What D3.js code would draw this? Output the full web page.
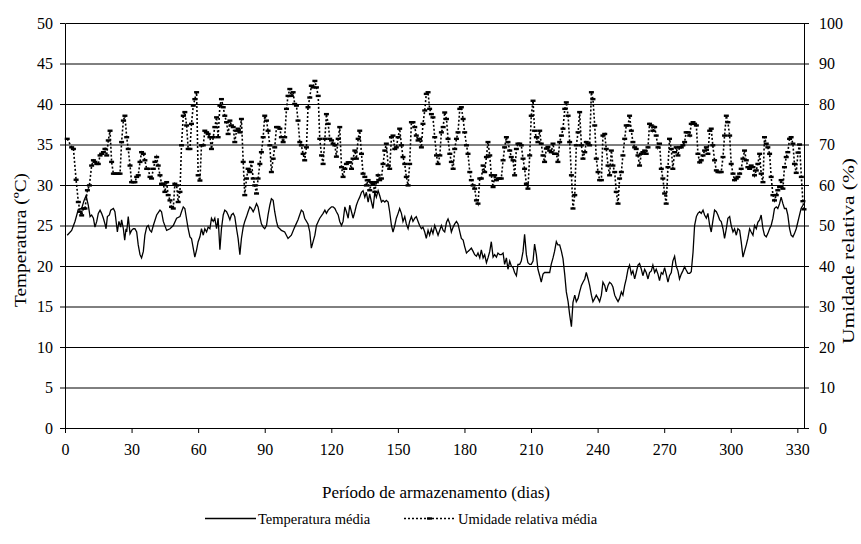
<!DOCTYPE html>
<html><head><meta charset="utf-8">
<script src="https://cdn.jsdelivr.net/npm/d3@7"></script>
<style>
body{margin:0;background:#fff;}
svg{display:block;}
</style></head>
<body><svg id="c" width="861" height="544" font-family="Liberation Serif"></svg>
<script>
// ---- data ----
const xTicks = [0,30,60,90,120,150,180,210,240,270,300,330];
const tempTicks = [0,5,10,15,20,25,30,35,40,45,50];
const rhTicks = [0,10,20,30,40,50,60,70,80,90,100];

const tempDay = [1.0,3.0,4.5,6.0,7.5,8.6,9.5,10.5,11.3,12.0,12.8,13.5,14.3,15.0,15.8,16.5,17.3,18.0,18.5,19.1,20.0,20.6,21.8,22.5,23.6,24.3,25.1,25.5,26.3,26.9,27.5,27.8,28.5,29.3,30.0,30.8,31.5,32.3,33.0,33.8,34.5,35.3,36.0,36.8,37.5,38.3,39.0,39.8,41.3,42.8,43.5,44.3,45.8,47.3,48.8,50.3,51.8,52.5,53.3,
54.0,55.5,56.3,57.0,58.5,59.3,60.0,60.8,61.5,62.3,63.0,63.8,64.5,65.3,66.0,66.8,67.5,68.3,69.0,69.8,70.5,71.3,72.0,72.8,73.5,74.3,75.0,75.8,76.5,77.3,78.0,78.8,79.5,80.3,81.0,81.8,82.5,83.3,84.0,84.8,85.5,86.3,87.0,87.8,88.5,89.3,90.0,90.8,91.5,92.3,93.0,93.8,94.5,95.3,96.0,96.8,97.5,99.0,100.5,102.0,103.5,105.0,106.5,107.3,108.0,109.5,
110.3,111.0,111.8,112.6,113.3,114.1,114.8,116.3,117.1,117.8,118.6,119.3,120.1,120.8,121.6,122.3,123.1,123.8,124.6,125.3,126.1,126.8,127.6,128.3,129.1,129.8,130.6,131.3,132.1,132.8,133.6,134.3,135.1,135.8,136.6,137.3,138.1,138.8,139.6,140.3,141.1,141.8,142.6,143.3,144.1,144.8,145.6,146.3,147.1,147.8,148.6,149.3,150.1,150.8,151.6,152.3,153.1,153.8,154.6,155.3,156.1,156.8,157.6,158.3,159.1,159.8,160.6,161.3,162.1,162.8,163.6,164.3,165.1,165.8,
166.6,168.1,169.6,170.4,171.1,171.9,172.6,173.4,174.1,174.9,175.6,176.4,177.1,177.9,178.6,179.4,180.1,180.9,181.6,182.4,183.1,183.9,184.6,185.4,186.1,186.9,187.6,188.4,189.1,189.9,190.6,191.4,192.1,192.9,193.6,194.4,195.1,195.9,196.6,197.4,198.1,198.9,199.6,200.4,201.1,201.9,202.6,203.4,204.1,204.9,205.6,206.4,207.1,207.9,208.6,209.4,210.1,210.9,211.6,212.4,213.1,213.9,214.6,215.4,216.1,216.9,217.6,218.4,219.1,219.9,220.6,221.4,222.1,
222.9,223.7,224.4,225.2,225.9,226.7,227.4,228.2,228.9,229.7,230.4,231.2,231.9,232.7,233.4,234.2,234.9,235.7,236.4,237.2,237.9,238.7,239.4,240.2,240.9,241.7,242.4,243.2,243.9,244.7,245.4,246.2,246.9,247.7,248.4,249.2,249.9,250.7,251.4,252.2,252.9,253.7,254.4,255.2,255.9,256.7,257.4,258.2,258.9,259.7,260.4,261.2,261.9,262.7,263.4,264.2,264.9,265.7,266.4,267.2,267.9,268.7,269.4,270.2,270.9,271.7,272.4,273.2,273.9,274.7,275.4,276.2,276.9,277.7,278.4,
279.2,279.9,280.7,281.5,282.2,283.0,283.7,284.5,285.2,286.0,286.7,287.5,288.2,289.0,289.7,290.5,291.2,291.9,292.7,293.5,294.2,295.0,295.7,296.5,297.2,298.0,298.7,299.5,300.2,301.0,301.7,302.5,303.2,304.0,304.7,305.5,306.2,307.0,307.7,308.5,309.2,310.0,310.7,311.5,312.2,313.0,313.7,314.5,315.2,316.0,316.7,317.5,318.2,319.0,319.7,320.5,321.2,322.0,322.7,323.5,324.2,325.0,325.7,326.5,327.2,328.0,328.7,329.5,330.2,331.0,331.7,332.5];
const tempVal = [23.8,24.4,25.5,27.0,27.1,28.1,28.7,27.5,26.1,26.3,25.9,24.8,25.5,26.5,26.9,26.5,25.9,25.2,24.6,26.1,26.3,26.9,27.1,26.7,24.2,25.5,24.8,25.7,24.6,23.2,24.6,24.2,26.1,24.0,24.4,24.6,24.6,24.2,22.6,21.4,21.0,21.8,23.8,24.8,25.0,24.4,24.2,25.0,26.3,26.9,26.7,25.5,24.4,24.6,25.0,25.9,26.1,26.7,27.3,
27.1,24.6,23.6,23.4,21.1,22.0,23.0,23.6,24.6,23.8,24.6,24.2,24.8,24.6,25.9,25.5,25.9,24.6,25.9,22.0,24.6,26.3,26.9,26.7,26.3,25.7,26.3,26.5,26.1,24.6,23.4,21.4,23.4,24.8,25.5,26.1,26.7,27.3,27.1,26.7,27.1,27.7,27.3,26.1,25.2,24.8,24.6,25.0,26.3,27.5,28.3,28.1,26.7,25.5,24.8,24.6,24.4,24.2,23.4,23.8,24.8,25.7,26.9,26.7,25.9,25.2,
24.2,22.2,23.0,23.8,25.0,25.5,25.9,26.5,26.9,26.5,26.9,27.1,27.3,27.3,27.1,26.7,26.3,25.5,25.0,25.5,27.3,26.7,25.9,27.5,26.7,25.9,26.7,27.5,28.1,28.5,29.1,29.3,28.5,29.1,27.9,28.9,27.9,27.1,29.1,28.5,29.3,28.7,27.9,28.1,27.9,28.1,27.9,26.7,25.0,24.2,25.0,25.9,26.5,27.1,26.5,25.5,26.1,25.2,24.6,25.5,26.1,25.5,25.9,26.1,25.5,25.0,24.6,24.8,24.2,23.4,24.4,23.8,24.6,24.0,
25.0,23.8,25.0,24.4,24.2,25.4,25.8,25.2,24.2,24.8,25.2,25.5,25.2,24.2,23.4,23.2,22.4,21.6,21.8,22.0,22.2,21.8,21.4,21.2,21.6,21.0,22.0,21.0,21.4,20.4,21.0,21.8,23.0,21.1,21.4,21.1,21.6,21.4,21.4,21.6,20.2,21.0,19.6,20.6,20.0,19.8,19.2,18.8,20.2,20.2,20.6,21.8,23.9,21.4,20.4,20.2,20.2,20.6,22.7,21.4,19.6,18.8,18.0,19.0,19.2,19.2,19.2,19.2,20.2,21.0,21.8,23.0,22.6,
22.6,21.8,20.9,18.9,16.8,15.6,14.0,12.5,15.5,16.4,15.6,16.0,16.8,17.6,18.0,18.4,19.2,18.4,17.6,16.4,15.6,16.0,16.4,16.0,15.6,16.4,18.0,17.6,16.8,17.6,18.0,17.8,17.4,16.4,16.0,15.6,16.0,16.8,16.4,17.6,18.4,19.6,20.1,19.0,19.4,18.4,19.2,20.1,20.3,19.6,18.8,19.6,19.2,18.4,19.2,19.4,20.1,19.2,19.6,19.0,18.2,19.2,19.0,19.8,19.0,18.0,18.8,19.2,20.6,21.2,20.0,19.4,18.4,19.0,19.4,
19.9,19.5,19.1,19.1,19.3,21.7,25.0,26.1,26.5,26.7,26.5,26.9,26.3,25.9,26.5,25.0,24.2,25.5,26.9,26.7,26.3,25.7,25.5,24.6,23.4,24.6,25.9,26.1,25.0,24.2,24.6,23.8,24.6,24.4,23.0,21.1,21.8,22.6,23.4,24.6,24.2,23.8,25.0,24.6,25.4,25.7,26.3,24.6,23.8,23.6,24.0,24.6,25.0,25.9,27.1,27.3,27.1,27.7,28.5,27.7,27.1,27.1,26.3,24.6,23.8,23.6,24.0,24.6,25.4,26.3,27.1,27.5];

const rhDay = [1.0,3.0,3.8,5.0,6.0,6.8,7.5,8.3,9.0,10.1,11.0,12.0,12.8,13.5,14.3,15.0,15.8,16.5,17.3,18.0,18.8,19.5,20.3,21.0,21.8,22.5,23.3,24.0,24.8,25.5,26.3,27.0,27.8,28.5,29.3,30.0,30.8,31.5,32.3,33.0,33.8,34.5,35.3,36.0,36.8,37.5,38.3,39.0,39.8,40.5,41.3,42.0,42.8,43.5,44.3,45.0,45.8,46.5,47.3,48.0,48.8,49.5,50.3,51.0,51.8,52.5,53.3,
54.0,54.8,55.5,56.3,57.0,57.8,58.5,59.3,60.0,60.8,61.5,62.3,63.0,63.8,64.5,65.3,66.0,66.8,67.5,68.3,69.0,69.8,70.5,71.3,72.0,72.8,73.5,74.3,75.0,75.8,76.5,77.3,78.0,78.8,79.5,80.3,81.0,81.8,82.5,83.3,84.0,84.8,85.5,86.3,87.0,87.8,88.5,89.3,90.0,90.8,91.5,92.3,93.0,93.8,94.5,95.3,96.0,96.8,97.5,98.3,99.0,99.8,100.5,101.3,102.0,102.8,103.5,104.3,105.0,105.8,106.5,107.3,108.0,108.8,109.5,
110.3,111.0,111.8,112.6,113.3,114.1,114.8,115.6,116.3,117.1,117.8,118.6,119.3,120.1,120.8,121.6,122.3,123.1,123.8,124.6,125.3,126.1,126.8,127.6,128.3,129.1,129.8,130.6,131.3,132.1,132.8,133.6,134.3,135.1,135.8,136.6,137.3,138.1,138.8,139.6,140.3,141.1,141.8,142.6,143.3,144.1,144.8,145.6,146.3,147.1,147.8,148.6,149.3,150.1,150.8,151.6,152.3,153.1,153.8,154.6,155.3,156.1,156.8,157.6,158.3,159.1,159.8,160.6,161.3,162.1,162.8,163.6,164.3,165.1,165.8,
166.6,167.4,168.1,168.9,169.6,170.4,171.1,171.9,172.6,173.4,174.1,174.9,175.6,176.4,177.1,177.9,178.6,179.4,180.1,180.9,181.6,182.4,183.1,183.9,184.6,185.4,186.1,186.9,187.6,188.4,189.1,189.9,190.6,191.4,192.1,192.9,193.6,194.4,195.1,195.9,196.6,197.4,198.1,198.9,199.6,200.4,201.1,201.9,202.6,203.4,204.1,204.9,205.6,206.4,207.1,207.9,208.6,209.4,210.1,210.9,211.6,212.4,213.1,213.9,214.6,215.4,216.1,216.9,217.6,218.4,219.1,219.9,220.6,221.4,222.1,
222.9,223.7,224.4,225.2,225.9,226.7,227.4,228.2,228.9,229.7,230.4,231.2,231.9,232.7,233.4,234.2,234.9,235.7,236.4,237.2,237.9,238.7,239.4,240.2,240.9,241.7,242.4,243.2,243.9,244.7,245.4,246.2,246.9,247.7,248.4,249.2,249.9,250.7,251.4,252.2,252.9,253.7,254.4,255.2,255.9,256.7,257.4,258.2,258.9,259.7,260.4,261.2,261.9,262.7,263.4,264.2,264.9,265.7,266.4,267.2,267.9,268.7,269.4,270.2,270.9,271.7,272.4,273.2,273.9,274.7,275.4,276.2,276.9,277.7,278.4,279.2,279.9,280.7,
281.5,282.2,283.0,283.7,284.5,285.2,286.0,286.7,287.5,288.2,289.0,289.7,290.5,291.2,291.9,292.7,293.5,294.2,295.0,295.7,296.5,297.2,298.0,298.7,299.5,300.2,301.0,301.7,302.5,303.2,304.0,304.7,305.5,306.2,307.0,307.7,308.5,309.2,310.0,310.7,311.5,312.2,313.0,313.7,314.5,315.2,316.0,316.7,317.5,318.2,319.0,319.7,320.5,321.2,322.0,322.7,323.5,324.2,325.0,325.7,326.5,327.2,328.0,328.7,329.5,330.3,331.0,331.8,332.5,333.0];
const rhVal = [71.4,69.3,68.9,61.3,55.8,53.4,52.5,54.2,54.2,58.7,59.9,64.8,66.1,65.7,65.2,65.2,67.3,67.7,68.1,68.9,67.3,71.0,73.4,65.7,62.8,62.8,62.8,62.8,62.8,70.6,75.9,77.1,71.8,68.9,64.8,60.7,60.7,60.7,62.0,62.4,65.7,68.1,67.7,66.1,64.0,64.0,62.0,61.6,64.0,65.7,66.9,64.8,62.4,60.3,60.3,58.3,60.7,57.5,56.2,54.6,54.2,60.3,59.9,55.8,58.3,69.8,77.1,
78.0,74.7,68.9,68.9,75.1,79.6,81.2,82.9,62.4,61.1,69.8,69.8,73.4,73.0,72.6,71.8,68.9,71.8,74.3,76.7,71.8,79.6,81.2,79.2,77.1,75.5,72.6,75.9,74.7,74.3,70.6,73.4,73.9,73.0,76.3,65.7,57.5,61.6,64.0,63.2,65.7,61.6,59.9,57.9,61.6,65.2,68.1,71.8,77.1,75.9,73.4,69.8,63.2,66.5,69.3,74.3,74.3,73.9,71.8,70.6,71.8,78.8,82.0,83.7,82.0,82.9,80.0,79.6,75.9,70.6,69.8,67.7,66.1,69.3,79.2,
81.6,84.5,84.1,85.7,84.1,82.0,71.4,67.3,65.2,71.4,77.5,75.1,71.4,71.0,70.2,69.8,67.0,71.4,74.3,64.4,62.0,64.0,65.2,65.6,65.6,64.0,66.5,68.5,66.5,71.4,73.4,67.7,62.8,62.0,59.9,61.2,58.7,60.7,60.2,58.3,60.7,62.4,61.2,61.6,65.2,68.5,70.2,64.8,64.0,71.8,72.2,68.9,69.3,71.8,73.9,69.8,66.9,65.2,62.0,59.9,65.2,75.5,75.5,74.3,72.2,71.0,71.4,69.3,75.1,78.4,82.5,82.9,78.8,77.5,76.7,
71.8,67.3,65.2,67.3,73.0,74.3,77.9,76.3,71.4,67.7,65.7,64.0,68.9,71.4,73.0,78.8,79.2,76.3,73.0,69.8,67.7,63.2,61.2,59.9,59.1,56.2,55.4,61.6,61.6,64.8,63.2,66.9,70.6,67.3,62.4,59.5,62.4,61.2,61.6,61.6,61.6,66.1,69.3,71.8,70.6,68.5,66.9,66.1,62.4,68.9,70.2,70.2,69.8,66.5,64.0,60.3,59.1,67.3,77.1,80.8,73.4,71.8,70.6,73.4,70.2,67.3,65.7,69.0,69.4,68.5,68.1,70.2,67.7,67.7,65.7,
70.6,72.2,73.9,78.8,80.4,77.1,70.6,62.4,54.2,57.5,69.8,73.0,78.0,69.8,66.5,68.1,70.6,70.2,69.8,82.9,81.2,74.7,66.5,63.2,61.2,61.2,72.2,72.6,68.9,64.8,62.4,68.5,64.8,63.2,58.3,55.4,61.6,63.2,67.3,71.4,74.7,74.7,77.1,73.4,70.6,69.3,68.9,67.3,64.8,67.7,68.1,68.5,67.7,69.3,75.1,74.7,73.4,74.3,72.2,69.3,70.2,64.0,61.6,57.9,55.4,64.4,71.4,68.9,64.0,68.1,69.3,67.3,69.3,69.3,69.8,70.6,73.0,73.0,
72.2,75.1,75.5,75.1,74.7,67.7,65.6,66.1,67.3,68.5,69.3,67.7,73.4,73.9,69.8,66.1,63.6,63.2,63.2,63.2,66.9,72.2,77.1,75.5,72.2,65.2,62.8,61.2,61.6,62.0,62.8,64.0,66.5,68.5,66.1,64.4,64.0,64.8,64.4,62.4,63.6,65.2,67.7,62.8,60.7,71.8,70.2,69.3,67.7,62.0,57.5,56.2,57.5,58.7,59.5,61.2,59.1,64.4,66.9,68.1,71.4,71.8,70.2,65.2,63.0,68.0,70.0,62.0,56.0,54.0];

// ---- layout ----
const FONT = "Liberation Serif";
const svg = d3.select("#c");
const x = d3.scaleLinear().domain([0,333]).range([65,804]);
const yT = d3.scaleLinear().domain([0,50]).range([428,23]);
const yH = d3.scaleLinear().domain([0,100]).range([428,23]);

// grid (half-pixel offset like the axis ticks)
svg.append("g").selectAll("line").data(tempTicks.filter(d=>d>0)).join("line")
  .attr("x1",65.5).attr("x2",804.5).attr("y1",d=>yT(d)+0.5).attr("y2",d=>yT(d)+0.5)
  .attr("stroke","#000").attr("stroke-width",1);

// axes
const axL = d3.axisLeft(yT).tickValues(tempTicks).tickSize(5).tickPadding(7);
const axR = d3.axisRight(yH).tickValues(rhTicks).tickSize(5).tickPadding(10);
const axB = d3.axisBottom(x).tickValues(xTicks).tickSize(5).tickPadding(11);
function styleAxis(g){
  g.attr("font-family",FONT).attr("font-size",16);
  g.selectAll("path,line").attr("stroke","#000");
  g.selectAll("text").attr("font-family",FONT).attr("font-size",16).attr("fill","#000");
}
svg.append("g").attr("transform","translate(65,0)").call(axL).call(styleAxis).call(g=>g.select(".domain").attr("d","M0.5,23.5V428.5"));
svg.append("g").attr("transform","translate(804,0)").call(axR).call(styleAxis).call(g=>g.select(".domain").attr("d","M0.5,23.5V428.5"));
svg.append("g").attr("transform","translate(0,428)").call(axB).call(styleAxis).call(g=>g.select(".domain").attr("d","M65.5,0.5H804.5"));

// temperature line
const tData = tempDay.map((d,i)=>[d,tempVal[i]]);
svg.append("path").datum(tData)
  .attr("d",d3.line().x(d=>x(d[0])).y(d=>yT(d[1])))
  .attr("fill","none").attr("stroke","#000").attr("stroke-width",1.3);

// humidity line
const hData = rhDay.map((d,i)=>[d,rhVal[i]]);
svg.append("path").datum(hData)
  .attr("d",d3.line().x(d=>x(d[0])).y(d=>yH(d[1])))
  .attr("fill","none").attr("stroke","#000").attr("stroke-width",1.6).attr("stroke-dasharray","2,2");
svg.append("g").selectAll("rect").data(hData).join("rect")
  .attr("x",d=>x(d[0])-2.5).attr("y",d=>yH(d[1])-1.2).attr("width",5).attr("height",2.4).attr("fill","#000");

// axis titles
svg.append("text").attr("x",436).attr("y",498).attr("text-anchor","middle").attr("font-family",FONT).attr("font-size",17).text("Período de armazenamento (dias)");
svg.append("text").attr("transform","translate(25.5,240) rotate(-90)").attr("text-anchor","middle").attr("font-family",FONT).attr("font-size",17)
  .attr("textLength",134).attr("lengthAdjust","spacingAndGlyphs").text("Temperatura (ºC)");
svg.append("text").attr("transform","translate(854,251) rotate(-90)").attr("text-anchor","middle").attr("font-family",FONT).attr("font-size",17)
  .attr("textLength",186).attr("lengthAdjust","spacingAndGlyphs").text("Umidade relativa (%)");

// legend
const lg = svg.append("g");
lg.append("line").attr("x1",205).attr("x2",256).attr("y1",518.5).attr("y2",518.5).attr("stroke","#000").attr("stroke-width",1.3);
lg.append("text").attr("x",258).attr("y",523.5).attr("font-family",FONT).attr("font-size",14.5).text("Temperatura média");
lg.append("line").attr("x1",404).attr("x2",455).attr("y1",518.5).attr("y2",518.5).attr("stroke","#000").attr("stroke-width",1.6).attr("stroke-dasharray","2,2");
lg.append("rect").attr("x",427).attr("y",517.3).attr("width",5).attr("height",2.4).attr("fill","#000");
lg.append("text").attr("x",458).attr("y",523.5).attr("font-family",FONT).attr("font-size",14.5).text("Umidade relativa média");
</script></body></html>
